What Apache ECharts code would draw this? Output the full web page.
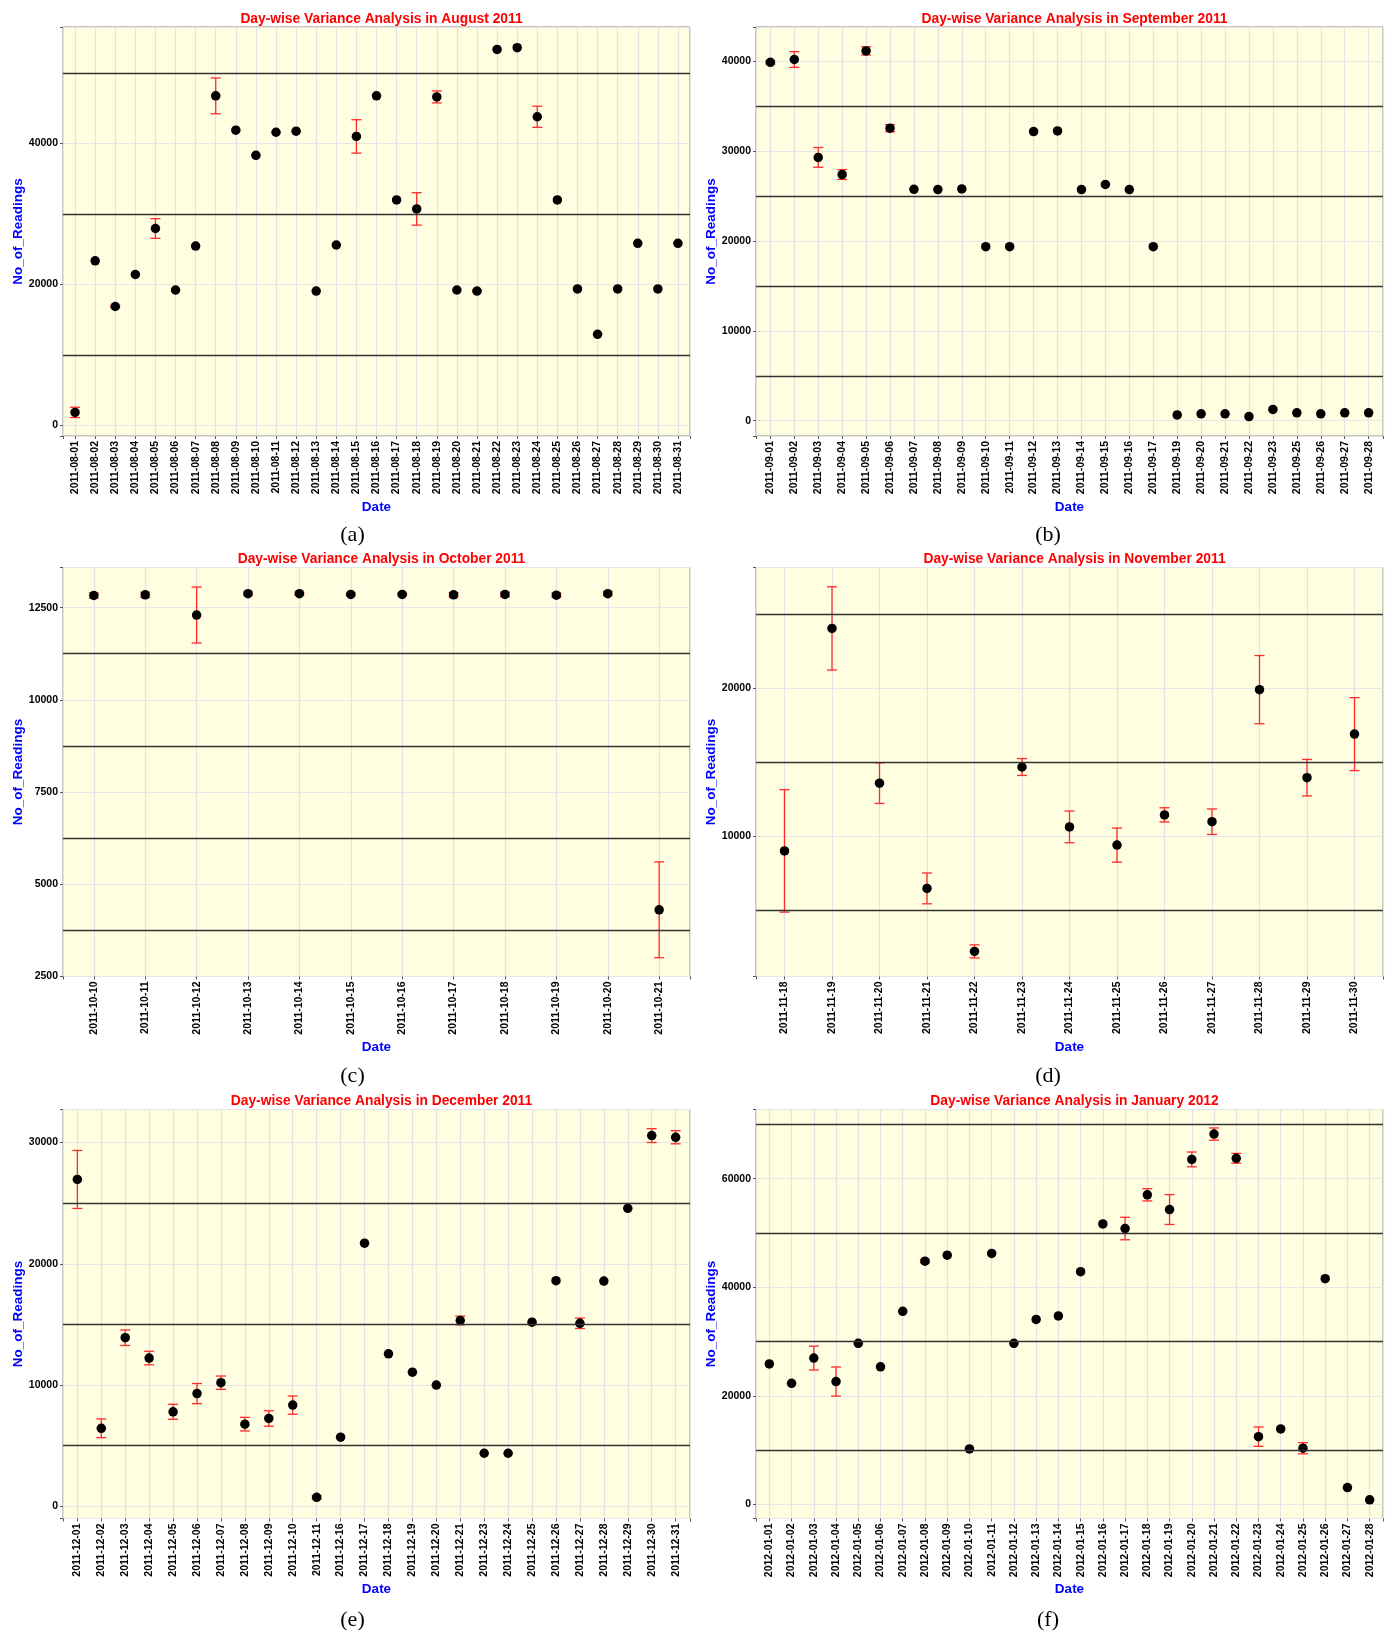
<!DOCTYPE html>
<html>
<head>
<meta charset="utf-8">
<title>Day-wise Variance Analysis</title>
<script src="https://cdn.jsdelivr.net/npm/echarts@6/dist/echarts.min.js"></script>
<style>
  html, body { margin: 0; padding: 0; background: #fff; }
  #myChart { width: 1391px; height: 1631px; }
</style>
</head>
<body>
<div id="myChart"></div>
<script>
// ---- data ----
const datesA = ['2011-08-01', '2011-08-02', '2011-08-03', '2011-08-04', '2011-08-05', '2011-08-06', '2011-08-07', '2011-08-08', '2011-08-09', '2011-08-10', '2011-08-11', '2011-08-12', '2011-08-13', '2011-08-14', '2011-08-15', '2011-08-16', '2011-08-17', '2011-08-18', '2011-08-19', '2011-08-20', '2011-08-21', '2011-08-22', '2011-08-23', '2011-08-24', '2011-08-25', '2011-08-26', '2011-08-27', '2011-08-28', '2011-08-29', '2011-08-30', '2011-08-31']
const valsA = [1850, 23370, 16880, 21420, 27950, 19220, 25460, 46780, 41900, 38340, 41610, 41760, 19070, 25610, 41020, 46780, 32000, 30730, 46630, 19220, 19070, 53370, 53610, 43810, 32000, 19370, 12930, 19370, 25850, 19370, 25850]
const errA = [730, 0, 150, 0, 1400, 0, 0, 2540, 0, 0, 0, 0, 0, 0, 2370, 0, 0, 2300, 850, 0, 150, 0, 0, 1500, 0, 0, 0, 0, 0, 0, 0]

const datesB = ['2011-09-01', '2011-09-02', '2011-09-03', '2011-09-04', '2011-09-05', '2011-09-06', '2011-09-07', '2011-09-08', '2011-09-09', '2011-09-10', '2011-09-11', '2011-09-12', '2011-09-13', '2011-09-14', '2011-09-15', '2011-09-16', '2011-09-17', '2011-09-19', '2011-09-20', '2011-09-21', '2011-09-22', '2011-09-23', '2011-09-25', '2011-09-26', '2011-09-27', '2011-09-28']
const valsB = [39920, 40230, 29330, 27420, 41190, 32580, 25770, 25740, 25810, 19390, 19390, 32200, 32280, 25740, 26310, 25740, 19390, 650, 770, 770, 460, 1260, 880, 770, 880, 880]
const errB = [200, 880, 1100, 550, 460, 400, 0, 0, 0, 0, 0, 0, 0, 0, 0, 0, 0, 0, 0, 0, 0, 0, 0, 0, 0, 0]

const datesC = ['2011-10-10', '2011-10-11', '2011-10-12', '2011-10-13', '2011-10-14', '2011-10-15', '2011-10-16', '2011-10-17', '2011-10-18', '2011-10-19', '2011-10-20', '2011-10-21']
const valsC = [12830, 12850, 12300, 12880, 12880, 12860, 12860, 12850, 12860, 12840, 12880, 4300]
const errC = [70, 70, 760, 40, 40, 30, 30, 60, 60, 60, 50, 1300]

const datesD = ['2011-11-18', '2011-11-19', '2011-11-20', '2011-11-21', '2011-11-22', '2011-11-23', '2011-11-24', '2011-11-25', '2011-11-26', '2011-11-27', '2011-11-28', '2011-11-29', '2011-11-30']
const valsD = [9030, 24040, 13600, 6500, 2250, 14690, 10650, 9420, 11460, 11000, 19910, 13970, 16910]
const errD = [4130, 2810, 1370, 1040, 440, 570, 1070, 1150, 480, 860, 2300, 1230, 2460]

const datesE = ['2011-12-01', '2011-12-02', '2011-12-03', '2011-12-04', '2011-12-05', '2011-12-06', '2011-12-07', '2011-12-08', '2011-12-09', '2011-12-10', '2011-12-11', '2011-12-16', '2011-12-17', '2011-12-18', '2011-12-19', '2011-12-20', '2011-12-21', '2011-12-23', '2011-12-24', '2011-12-25', '2011-12-26', '2011-12-27', '2011-12-28', '2011-12-29', '2011-12-30', '2011-12-31']
const valsE = [26960, 6440, 13910, 12230, 7800, 9300, 10200, 6780, 7250, 8350, 750, 5710, 21710, 12580, 11070, 10000, 15330, 4380, 4380, 15190, 18610, 15100, 18580, 24580, 30580, 30440]
const errE = [2390, 770, 640, 560, 620, 830, 550, 560, 640, 750, 150, 0, 0, 0, 0, 0, 360, 0, 0, 0, 0, 430, 0, 0, 570, 540]

const datesF = ['2012-01-01', '2012-01-02', '2012-01-03', '2012-01-04', '2012-01-05', '2012-01-06', '2012-01-07', '2012-01-08', '2012-01-09', '2012-01-10', '2012-01-11', '2012-01-12', '2012-01-13', '2012-01-14', '2012-01-15', '2012-01-16', '2012-01-17', '2012-01-18', '2012-01-19', '2012-01-20', '2012-01-21', '2012-01-22', '2012-01-23', '2012-01-24', '2012-01-25', '2012-01-26', '2012-01-27', '2012-01-28']
const valsF = [25870, 22310, 26960, 22630, 29680, 25350, 35560, 44810, 45910, 10220, 46230, 29680, 34080, 34720, 42870, 51670, 50820, 57030, 54320, 63560, 68220, 63760, 12480, 13900, 10350, 41580, 3100, 840]
const errF = [0, 0, 2200, 2680, 0, 0, 0, 300, 0, 0, 0, 0, 0, 0, 0, 0, 2070, 1130, 2750, 1360, 1130, 900, 1780, 0, 1030, 0, 0, 0]

// y ranges, tick steps and the dark (minor) lines of each panel
const rangeA = [-1500, 56550], stepA = 20000, darkA = [10000, 30000, 50000]
const rangeB = [-1700, 43850], stepB = 10000, darkB = [5000, 15000, 25000, 35000]
const rangeC = [2490, 13590], stepC = 2500, darkC = [3750, 6250, 8750, 11250]
const rangeD = [556, 28150], stepD = 10000, darkD = [5000, 15000, 25000]
const rangeE = [-1000, 32730], stepE = 10000, darkE = [5000, 15000, 25000]
const rangeF = [-2600, 72750], stepF = 20000, darkF = [10000, 30000, 50000, 70000]

const titles = ['Day-wise Variance Analysis in August 2011', 'Day-wise Variance Analysis in September 2011',
  'Day-wise Variance Analysis in October 2011', 'Day-wise Variance Analysis in November 2011',
  'Day-wise Variance Analysis in December 2011', 'Day-wise Variance Analysis in January 2012']
const subLabels = ['(a)', '(b)', '(c)', '(d)', '(e)', '(f)']

const panels = [
  { dates: datesA, vals: valsA, errs: errA, range: rangeA, step: stepA, dark: darkA },
  { dates: datesB, vals: valsB, errs: errB, range: rangeB, step: stepB, dark: darkB },
  { dates: datesC, vals: valsC, errs: errC, range: rangeC, step: stepC, dark: darkC },
  { dates: datesD, vals: valsD, errs: errD, range: rangeD, step: stepD, dark: darkD },
  { dates: datesE, vals: valsE, errs: errE, range: rangeE, step: stepE, dark: darkE },
  { dates: datesF, vals: valsF, errs: errF, range: rangeF, step: stepF, dark: darkF },
]

// layout
const colLeft = [63, 756]
const rowTop = [27, 567.5, 1109.5]
const gridW = 627, gridH = 409
const subY = [519, 1060, 1604]

const chart = echarts.init(document.getElementById('myChart'))

let option = {
  animation: false,
  backgroundColor: '#ffffff',
  textStyle: { fontFamily: 'Liberation Sans, Arial, sans-serif' },
  title: [],
  grid: [],
  xAxis: [],
  yAxis: [],
  series: []
}

panels.forEach((p, i) => {
  const col = i % 2, row = Math.floor(i / 2)
  const left = colLeft[col], top = rowTop[row]

  option.grid.push({
    left: left, top: top, width: gridW, height: gridH,
    show: true, backgroundColor: '#fffee0', borderColor: '#8a8a8a', borderWidth: 1
  })

  option.title.push({
    text: titles[i], left: left + gridW / 2, top: top - 20, textAlign: 'center',
    textStyle: { color: '#ff0000', fontWeight: 'bold', fontSize: 13.8, fontFamily: 'Liberation Sans, Arial, sans-serif' }
  })
  option.title.push({
    text: subLabels[i], left: col === 0 ? 347.5 : 1043, top: subY[row], textAlign: 'center',
    textStyle: { color: '#000', fontWeight: 'normal', fontSize: 22, fontFamily: 'Liberation Serif, DejaVu Serif, serif' }
  })

  option.xAxis.push({
    type: 'value', gridIndex: i,
    min: -0.6, max: p.dates.length - 0.4,
    minInterval: 1, maxInterval: 1, splitNumber: p.dates.length,
    name: 'Date', nameLocation: 'middle', nameGap: 64,
    nameTextStyle: { color: '#0000ff', fontWeight: 'bold', fontSize: 13.5 },
    axisLine: { show: false, onZero: false },
    axisTick: { show: true, length: 3, lineStyle: { color: '#555' } },
    axisLabel: {
      rotate: 90, margin: 5, color: '#000', fontWeight: 'bold', fontSize: 10.5,
      formatter: v => (Number.isInteger(v) && p.dates[v]) ? p.dates[v] : ''
    },
    splitLine: { show: true, lineStyle: { color: '#e3e3e3', width: 1.2 } }
  })

  option.yAxis.push({
    type: 'value', gridIndex: i,
    min: p.range[0], max: p.range[1],
    minInterval: p.step, maxInterval: p.step,
    name: 'No_of_Readings', nameLocation: 'middle', nameRotate: 90, nameGap: 38,
    nameTextStyle: { color: '#0000ff', fontWeight: 'bold', fontSize: 13.5 },
    axisLine: { show: false, onZero: false },
    axisTick: { show: true, length: 3, lineStyle: { color: '#555' } },
    axisLabel: {
      margin: 5, color: '#000', fontWeight: 'bold', fontSize: 10.5,
      formatter: v => (v % p.step === 0) ? String(v) : ''
    },
    splitLine: { show: true, lineStyle: { color: '#e6e6e6', width: 1.2 } }
  })

  // error bars (mean +/- sd)
  option.series.push({
    type: 'custom', xAxisIndex: i, yAxisIndex: i,
    encode: { x: 0, y: 1 },
    data: p.vals.map((v, k) => [k, v, p.errs[k]]),
    renderItem: (params, api) => {
      const e = api.value(2)
      if (!e) return null
      const x = api.value(0), y = api.value(1)
      const hi = api.coord([x, y + e]), lo = api.coord([x, y - e])
      const w = 5
      const st = { stroke: '#ff2b2b', lineWidth: 1.3 }
      return {
        type: 'group', children: [
          { type: 'line', shape: { x1: hi[0], y1: hi[1], x2: lo[0], y2: lo[1] }, style: st },
          { type: 'line', shape: { x1: hi[0] - w, y1: hi[1], x2: hi[0] + w, y2: hi[1] }, style: st },
          { type: 'line', shape: { x1: lo[0] - w, y1: lo[1], x2: lo[0] + w, y2: lo[1] }, style: st }
        ]
      }
    },
    z: 3
  })

  // points + the dark horizontal lines
  option.series.push({
    type: 'scatter', xAxisIndex: i, yAxisIndex: i,
    symbolSize: 9.5,
    itemStyle: { color: '#000', opacity: 1 },
    data: p.vals.map((v, k) => [k, v]),
    markLine: {
      silent: true, symbol: 'none', label: { show: false },
      lineStyle: { color: '#333', width: 1.4, type: 'solid' },
      data: p.dark.map(d => ({ yAxis: d }))
    },
    z: 4
  })
})

chart.setOption(option)
</script>
</body>
</html>
